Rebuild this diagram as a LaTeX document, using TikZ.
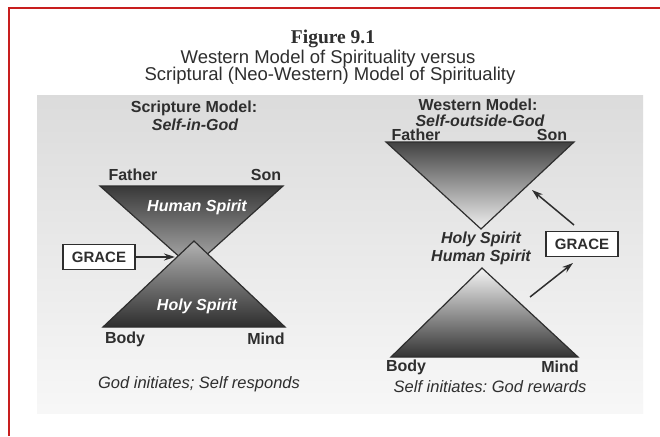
\documentclass[tikz,border=0pt]{standalone}
\usepackage{fontspec}
\setmainfont{Liberation Sans}
\newfontfamily\figserif{Liberation Serif}
\usetikzlibrary{arrows.meta}
\definecolor{ink}{HTML}{2E2E2E}
\definecolor{frame}{HTML}{C81E1E}
\frenchspacing
\tikzset{
  lbl/.style={font=\fontsize{16}{18}\selectfont\bfseries, text=ink, inner sep=0pt},
  ilbl/.style={font=\fontsize{16}{18}\selectfont\bfseries\itshape, text=ink, inner sep=0pt},
  wlbl/.style={font=\fontsize{16}{18}\selectfont\bfseries\itshape, text=white, inner sep=0pt},
  captxt/.style={font=\fontsize{16.5}{18}\selectfont\itshape, text=ink, inner sep=0pt},
  subtxt/.style={font=\fontsize{18.5}{20}\selectfont, text=ink, inner sep=0pt},
  gracebox/.style={draw=ink, line width=1.3pt, fill=white, minimum width=72pt, minimum height=25pt, inner sep=0pt, font=\fontsize{15}{17}\selectfont\bfseries, text=ink},
  tri/.style={draw=ink, line width=1.2pt, line join=miter},
  arr/.style={draw=ink, line width=1.5pt, -{Stealth[length=11pt,width=7pt]}}
}
\begin{document}
\begin{tikzpicture}[x=1pt,y=-1pt]
\useasboundingbox (0,0) rectangle (660,436);
\fill[white] (0,0) rectangle (660,436);
% grey photo panel
\shade[top color=black!14, bottom color=black!3] (37,95) rectangle (643,413);
% red frame
\draw[frame, line width=1.4pt] (9,436) -- (9,8) -- (660,8);

% titles
\node[font=\figserif\fontsize{19.5}{21}\selectfont\bfseries, text=ink, inner sep=0pt] (fig) at (333,39) {Figure 9.1};
\node[subtxt] (sub1) at (328,59) {Western Model of Spirituality versus};
\node[subtxt] (sub2) at (330,76) {Scriptural (Neo-Western) Model of Spirituality};

% ---------- left: Scripture model ----------
\coordinate (LT1) at (100,186);
\coordinate (LT2) at (283,186);
\coordinate (LT3) at (192,268);
\coordinate (LB1) at (103,327);
\coordinate (LB2) at (285,327);
\coordinate (LB3) at (194,241);
\shade[top color=black!78, bottom color=black!30] (LT1) -- (LT2) -- (LT3) -- cycle;
\draw[tri] (LT1) -- (LT2) -- (LT3) -- cycle;
\shade[top color=black!30, bottom color=black!82] (LB1) -- (LB2) -- (LB3) -- cycle;
\draw[tri] (LB1) -- (LB2) -- (LB3) -- cycle;

\node[lbl] (smodel) at (194,108) {Scripture Model:};
\node[ilbl] (sig) at (195,125) {Self-in-God};
\node[lbl] (lfather) at (133,175) {Father};
\node[lbl] (lson) at (266,175) {Son};
\node[wlbl] (lhuman) at (197,207) {Human Spirit};
\node[wlbl] (lholy) at (197,306) {Holy Spirit};
\node[lbl] (lbody) at (125,339) {Body};
\node[lbl] (lmind) at (266,339) {Mind};
\node[captxt] (lcap) at (199,384) {God initiates; Self responds};
\node[gracebox] (lgrace) at (99,257) {GRACE};
\coordinate (lhit) at (175,257);
\draw[arr] (lgrace.east) -- (lhit);

% ---------- right: Western model ----------
\coordinate (RT1) at (386,142);
\coordinate (RT2) at (574,142);
\coordinate (RT3) at (481,229);
\coordinate (RB1) at (391,357);
\coordinate (RB2) at (578,357);
\coordinate (RB3) at (482,268);
\shade[top color=black!74, bottom color=black!6] (RT1) -- (RT2) -- (RT3) -- cycle;
\draw[tri] (RT1) -- (RT2) -- (RT3) -- cycle;
\shade[top color=black!4, bottom color=black!80] (RB1) -- (RB2) -- (RB3) -- cycle;
\draw[tri] (RB1) -- (RB2) -- (RB3) -- cycle;

\node[lbl] (wmodel) at (478,105) {Western Model:};
\node[ilbl] (sog) at (480,121) {Self-outside-God};
\node[lbl] (rfather) at (416,135) {Father};
\node[lbl] (rson) at (552,135) {Son};
\node[ilbl] (rholy) at (481,239) {Holy Spirit};
\node[ilbl] (rhuman) at (481,257) {Human Spirit};
\node[lbl] (rbody) at (406,367) {Body};
\node[lbl] (rmind) at (560,367) {Mind};
\node[captxt] (rcap) at (490,387) {Self initiates: God rewards};
\node[gracebox] (rgrace) at (582,244) {GRACE};
\coordinate (rtail1) at (574,225);
\coordinate (rhead1) at (532,190);
\coordinate (rtail2) at (530,297);
\coordinate (rhead2) at (573,263);
\draw[arr] (rtail1) -- (rhead1);
\draw[arr] (rtail2) -- (rhead2);
\end{tikzpicture}
\end{document}
